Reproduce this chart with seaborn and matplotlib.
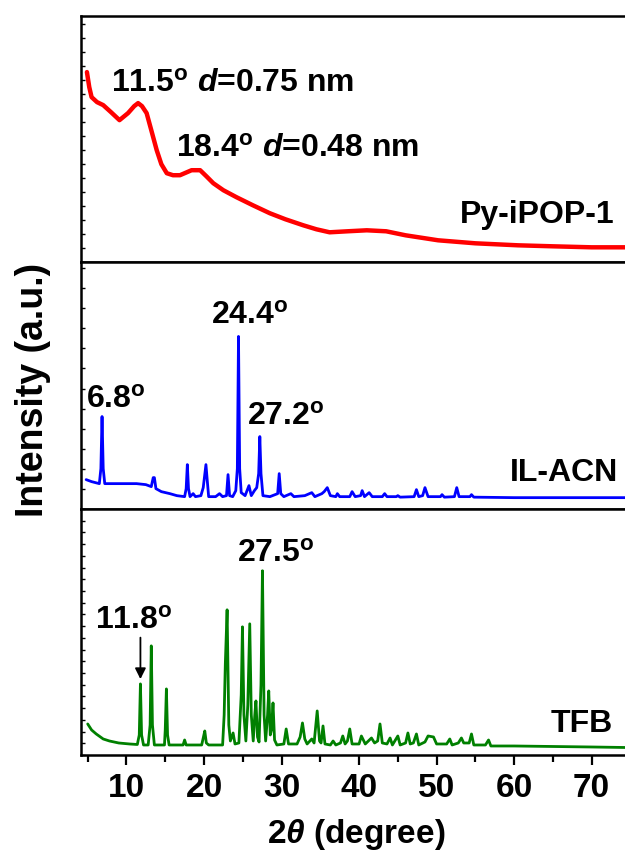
import matplotlib
matplotlib.use("Agg")
import matplotlib.pyplot as plt
from matplotlib.ticker import MultipleLocator
import pandas as pd
import seaborn as sns

# ---------------- data ----------------
py_theta = [4.9, 5.2, 5.5, 6.2, 7.0, 8.0, 9.1, 10.2, 11.0, 11.5, 12.0, 12.6, 13.2, 13.9,
            14.5, 15.2, 16.0, 16.9, 18.4, 19.5, 20.3, 21.2, 22.5, 24.2, 26.3, 28.5, 30.5,
            32.8, 34.5, 36.2, 38.5, 41.0, 43.5, 46.0, 50.2, 55.0, 60.5, 65.0, 70.0, 74.3]
py_int = [190, 175, 165, 160, 157, 150, 142, 149, 156, 159, 156, 149, 132, 112,
          98, 89, 87, 87, 92, 92, 86, 79, 72, 65, 57, 49, 43,
          37, 33, 30, 31, 32, 31, 27, 22, 19, 17, 16, 15, 15]

il_theta = [4.8, 5.5, 6.5, 6.7, 6.85, 7.0, 7.2, 9.0, 11.3, 12.5, 13.2, 13.45, 13.6, 13.8,
            14.5, 15.6, 16.5, 17.5, 17.7, 17.85, 18.0, 18.2, 18.6, 18.9, 19.6, 19.9, 20.25,
            20.4, 20.6, 21.5, 22.0, 22.4, 22.9, 23.1, 23.3, 23.7, 24.1, 24.3, 24.45, 24.6,
            24.8, 25.3, 25.8, 26.1, 26.5, 26.8, 27.05, 27.2, 27.35, 27.6, 28.5, 29.5, 29.7,
            29.9, 30.3, 31.2, 31.6, 33.0, 33.9, 34.3, 35.2, 35.5, 35.9, 36.3, 37.0, 37.2,
            37.5, 38.8, 39.1, 39.5, 40.2, 40.4, 40.7, 41.3, 41.7, 43.0, 43.3, 43.6, 44.8,
            45.0, 45.3, 47.1, 47.4, 47.7, 48.2, 48.5, 48.9, 50.5, 50.7, 51.0, 52.3, 52.6,
            52.9, 54.3, 54.5, 54.8, 60.0, 65.0, 70.0, 74.3]
il_int = [29, 27, 25, 40, 92, 40, 25, 25, 25, 24, 22, 31, 31, 20,
          17, 15, 13, 12, 20, 44, 20, 12, 15, 12, 13, 21, 44,
          30, 12, 12, 15, 12, 13, 34, 13, 12, 18, 40, 172, 40,
          16, 13, 23, 13, 18, 21, 35, 72, 35, 13, 12, 15, 35,
          15, 12, 15, 12, 13, 16, 12, 15, 17, 21, 13, 12, 15,
          12, 12, 17, 12, 13, 18, 12, 16, 12, 12, 15, 12, 12,
          13, 11.5, 12, 19, 12, 13, 21, 12, 12, 14, 11.5, 12, 21,
          12, 12, 14, 11.5, 11, 11, 11, 11]

tfb_theta = [5.0, 5.5, 6.1, 7.0, 7.8, 9.0, 10.4, 11.4, 11.65, 11.8, 11.95, 12.2, 12.8, 13.05,
             13.2, 13.35, 13.6, 14.9, 15.0, 15.15, 15.3, 15.5, 17.3, 17.5, 17.7, 19.7, 19.9,
             20.1, 20.3, 20.6, 22.4, 22.6, 22.75, 22.98, 23.2, 23.4, 23.75, 24.0, 24.5, 24.8,
             24.96, 25.15, 25.4, 25.65, 25.9, 26.1, 26.35, 26.55, 26.7, 26.9, 27.1, 27.35,
             27.54, 27.75, 27.95, 28.2, 28.35, 28.55, 28.7, 28.9, 29.1, 29.4, 30.3, 30.6,
             30.9, 32.0, 32.4, 32.7, 33.0, 33.3, 33.9, 34.2, 34.6, 34.9, 35.1, 35.35, 35.6,
             36.3, 36.65, 37.0, 37.6, 37.9, 38.2, 38.5, 38.8, 39.1, 40.0, 40.3, 40.8, 41.6,
             42.0, 42.4, 42.7, 43.0, 43.6, 44.0, 44.3, 45.0, 45.3, 46.0, 46.3, 46.6, 47.0,
             47.4, 47.7, 48.5, 48.9, 49.6, 50.0, 51.3, 51.7, 52.0, 52.8, 53.2, 53.5, 54.2,
             54.5, 54.8, 56.3, 56.7, 57.0, 60.0, 65.0, 70.0, 74.3]
tfb_int = [31, 25, 21, 16, 14, 12, 11, 10.5, 20, 71, 20, 10, 10, 30,
           109, 30, 10, 10, 25, 66, 20, 10, 10, 15, 10, 10, 17,
           24, 12, 10, 10, 40, 91, 145, 30, 14, 22, 11, 12, 60,
           128, 40, 14, 50, 131, 40, 14, 40, 54, 18, 13, 70,
           184, 40, 14, 40, 64, 20, 25, 52, 15, 10, 11, 26,
           11, 11, 18, 32, 16, 11, 16, 12, 44, 14, 12, 29, 11,
           10, 14, 10, 12, 19, 11, 14, 26, 11, 11, 19, 11, 17,
           12, 14, 31, 12, 11, 17, 10, 19, 10, 12, 22, 11, 12,
           21, 10, 13, 19, 18, 11, 11, 16, 10, 12, 17, 12, 12,
           21, 10, 10, 15, 9, 9, 8.5, 8, 7.5]

samples = ["Py-iPOP-1", "IL-ACN", "TFB"]
colors = ["#ff0000", "#0000ff", "#008000"]
x_ticks = [10, 20, 30, 40, 50, 60, 70]

# ---------------- style ----------------
sns.set_theme(style="ticks")
plt.rcParams["font.family"] = ["Liberation Sans", "DejaVu Sans"]
plt.rcParams["font.weight"] = "bold"
plt.rcParams["text.color"] = "black"
plt.rcParams["axes.labelcolor"] = "black"
plt.rcParams["xtick.color"] = "black"
plt.rcParams["ytick.color"] = "black"
plt.rcParams["axes.edgecolor"] = "black"
plt.rcParams["mathtext.fontset"] = "custom"
plt.rcParams["mathtext.rm"] = "Liberation Sans:bold"
plt.rcParams["mathtext.it"] = "Liberation Sans:italic:bold"
plt.rcParams["mathtext.bf"] = "Liberation Sans:bold"

fig = plt.figure(figsize=(6.25, 8.57), dpi=100)
L, R = 81.5 / 625, 1.0
T, B = 1 - 16 / 857, 1 - 755 / 857
H = (T - B) / 3
axes = [fig.add_axes([L, T - (i + 1) * H, R - L, H]) for i in range(3)]

data = [(py_theta, py_int), (il_theta, il_int), (tfb_theta, tfb_int)]
lws = [3.2, 2.0, 2.0]
ysteps = [14, 20, 11.7]

for i, (ax, (xs, ys)) in enumerate(zip(axes, data)):
    df = pd.DataFrame({"two_theta": xs, "intensity": ys})
    sns.lineplot(data=df, x="two_theta", y="intensity", ax=ax, color=colors[i],
                 lw=lws[i], estimator=None, sort=False)
    ax.set_xlim(4.2, 74.3)
    ax.set_ylim(0, 246)
    ax.set_xlabel("")
    ax.set_ylabel("")
    for s in ["left", "top", "bottom"]:
        ax.spines[s].set_linewidth(1.8)
        ax.spines[s].set_color("black")
    ax.spines["right"].set_visible(False)
    ax.xaxis.set_major_locator(MultipleLocator(10))
    ax.xaxis.set_minor_locator(MultipleLocator(5))
    ax.yaxis.set_major_locator(MultipleLocator(ysteps[i]))
    ax.tick_params(axis="x", which="major", direction="out", length=7, width=1.6,
                   color="black", labelsize=24, pad=6, labelcolor="black")
    ax.tick_params(axis="x", which="minor", direction="out", length=5, width=1.6,
                   color="black")
    ax.tick_params(axis="y", which="major", direction="in", length=3, width=1.0,
                   color="black", labelleft=False)
    if i < 2:
        ax.tick_params(axis="x", which="both", labelbottom=False)
    else:
        ax.set_xticks(x_ticks)
        ax.set_xticklabels([str(v) for v in x_ticks], fontweight="bold")

fs = 23
ax0, ax1, ax2 = axes
ax0.text(8.06, 170, "11.5$^\\mathrm{o}$ $\\mathit{d}$=0.75 nm", fontsize=fs,
         fontweight="bold", va="baseline", ha="left")
ax0.text(16.45, 105, "18.4$^\\mathrm{o}$ $\\mathit{d}$=0.48 nm", fontsize=fs,
         fontweight="bold", va="baseline", ha="left")
ax0.text(73.0, 39, samples[0], fontsize=fs, fontweight="bold", va="baseline", ha="right")

ax1.text(20.96, 185, "24.4$^\\mathrm{o}$", fontsize=fs, fontweight="bold",
         va="baseline", ha="left")
ax1.text(4.83, 101, "6.8$^\\mathrm{o}$", fontsize=fs, fontweight="bold",
         va="baseline", ha="left")
ax1.text(25.5, 84, "27.2$^\\mathrm{o}$", fontsize=fs, fontweight="bold",
         va="baseline", ha="left")
ax1.text(73.4, 28, samples[1], fontsize=fs, fontweight="bold", va="baseline", ha="right")

ax2.text(24.2, 193, "27.5$^\\mathrm{o}$", fontsize=fs, fontweight="bold",
         va="baseline", ha="left")
ax2.text(5.9, 126, "11.8$^\\mathrm{o}$", fontsize=fs, fontweight="bold",
         va="baseline", ha="left")
ax2.annotate("", xy=(11.8, 73), xytext=(11.8, 120),
             arrowprops=dict(arrowstyle="-|>", color="black", lw=1.3, mutation_scale=16))
ax2.text(72.8, 23, samples[2], fontsize=fs, fontweight="bold", va="baseline", ha="right")

fig.text(356 / 625, 1 - 843 / 857, "2$\\mathit{\\theta}$ (degree)", fontsize=24,
         fontweight="bold", ha="center", va="baseline")
fig.text(33 / 625, 1 - 390 / 857, "Intensity (a.u.)", fontsize=27, fontweight="bold",
         rotation=90, ha="center", va="center")

fig.savefig("out.png", dpi=100)
